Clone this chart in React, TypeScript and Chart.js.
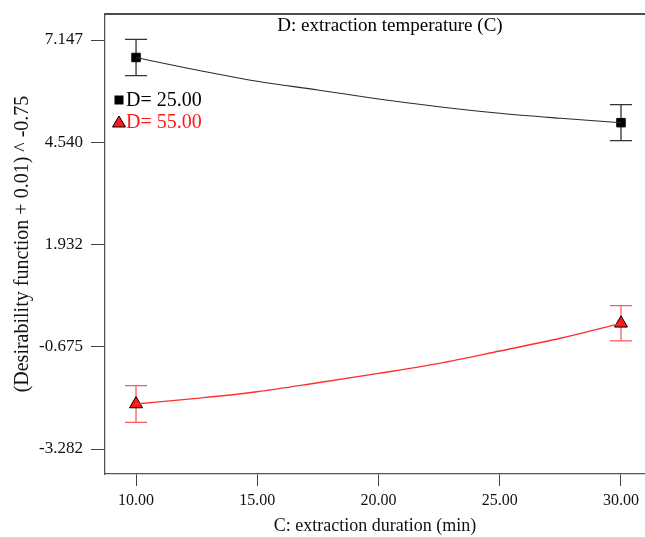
import { useEffect, useRef } from "react";
import { Chart, registerables } from "chart.js";

Chart.register(...registerables);

// Extraction duration (min) at which the fitted curves are sampled
const durations = [10, 12.5, 15, 17.5, 20, 22.5, 25, 27.5, 30];
// Fitted response curves for the two extraction temperatures
const curve25 = [6.701, 6.382, 6.094, 5.872, 5.643, 5.446, 5.278, 5.151, 5.039];
const curve55 = [-2.135, -1.99, -1.821, -1.592, -1.352, -1.097, -0.783, -0.459, -0.077];

// Design points with their interval half-widths
const designDurations = [10, 30];
const mean25 = [6.701, 5.039];
const mean55 = [-2.135, -0.077];
const halfInterval25 = [0.46, 0.46];
const halfInterval55 = [0.47, 0.45];

const yTicks = [-3.282, -0.675, 1.932, 4.54, 7.147];
const xTicks = [10, 15, 20, 25, 30];

const legendLabels = ["D= 25.00", "D= 55.00"];
const plotTitle = "D: extraction temperature (C)";

const SERIF = "'Liberation Serif', 'Times New Roman', serif";
const RED = "#ff1a1a";

const errorBarPlugin = {
  id: "errorBars",
  beforeDatasetsDraw(chart: any) {
    const { ctx, scales } = chart;
    const x = scales.x;
    const y = scales.y;
    const draw = (means: number[], halves: number[], color: string) => {
      ctx.save();
      ctx.strokeStyle = color;
      ctx.lineWidth = 1.3;
      designDurations.forEach((d, i) => {
        const px = x.getPixelForValue(d);
        const top = y.getPixelForValue(means[i] + halves[i]);
        const bot = y.getPixelForValue(means[i] - halves[i]);
        ctx.beginPath();
        ctx.moveTo(px, top);
        ctx.lineTo(px, bot);
        ctx.moveTo(px - 11, top);
        ctx.lineTo(px + 11, top);
        ctx.moveTo(px - 11, bot);
        ctx.lineTo(px + 11, bot);
        ctx.stroke();
      });
      ctx.restore();
    };
    draw(mean25, halfInterval25, "#333333");
    draw(mean55, halfInterval55, "#ff5a5a");
  },
};

const decorPlugin = {
  id: "decor",
  afterDraw(chart: any) {
    const { ctx, chartArea, width } = chart;
    ctx.save();
    // top frame line
    ctx.strokeStyle = "#111";
    ctx.lineWidth = 1.5;
    ctx.beginPath();
    ctx.moveTo(chartArea.left, chartArea.top);
    ctx.lineTo(width, chartArea.top);
    ctx.stroke();

    // heading inside the plot
    ctx.fillStyle = "#000";
    ctx.font = `19px ${SERIF}`;
    ctx.textAlign = "center";
    ctx.textBaseline = "middle";
    ctx.fillText(plotTitle, 390, chartArea.top + 12);

    // legend
    const lx = chartArea.left + 14;
    const ly1 = chartArea.top + 86;
    const ly2 = chartArea.top + 108;
    ctx.fillStyle = "#000";
    ctx.fillRect(lx - 4.5, ly1 - 4.5, 9, 9);
    ctx.beginPath();
    ctx.moveTo(lx, ly2 - 6);
    ctx.lineTo(lx + 6.5, ly2 + 5);
    ctx.lineTo(lx - 6.5, ly2 + 5);
    ctx.closePath();
    ctx.fillStyle = RED;
    ctx.fill();
    ctx.strokeStyle = "#000";
    ctx.lineWidth = 1;
    ctx.stroke();

    ctx.font = `20px ${SERIF}`;
    ctx.textAlign = "left";
    ctx.fillStyle = "#000";
    ctx.fillText(legendLabels[0], lx + 7, ly1 + 1);
    ctx.fillStyle = RED;
    ctx.fillText(legendLabels[1], lx + 7, ly2 + 1);
    ctx.restore();
  },
};

export default function App() {
  const ref = useRef<HTMLCanvasElement>(null);

  useEffect(() => {
    document.body.style.margin = "0";
    const canvas = ref.current;
    if (!canvas) return;

    const chart = new Chart(canvas, {
      type: "scatter",
      data: {
        datasets: [
          {
            data: durations.map((d, i) => ({ x: d, y: curve25[i] })),
            showLine: true,
            borderColor: "#2a2a2a",
            borderWidth: 1.1,
            pointRadius: 0,
            cubicInterpolationMode: "monotone",
          },
          {
            data: durations.map((d, i) => ({ x: d, y: curve55[i] })),
            showLine: true,
            borderColor: "#ff3030",
            borderWidth: 1.4,
            pointRadius: 0,
            cubicInterpolationMode: "monotone",
          },
          {
            data: designDurations.map((d, i) => ({ x: d, y: mean25[i] })),
            pointStyle: "rect",
            pointRadius: 6,
            backgroundColor: "#000",
            borderColor: "#000",
            borderWidth: 1,
          },
          {
            data: designDurations.map((d, i) => ({ x: d, y: mean55[i] })),
            pointStyle: "triangle",
            pointRadius: 7.5,
            backgroundColor: RED,
            borderColor: "#000",
            borderWidth: 1,
          },
        ],
      } as any,
      options: {
        animation: false,
        responsive: false,
        layout: {
          autoPadding: false,
          padding: { top: 14, right: 0, left: 0, bottom: 0 },
        },
        plugins: {
          legend: { display: false },
          tooltip: { enabled: false },
        },
        scales: {
          x: {
            type: "linear",
            min: 8.72,
            max: 30.99,
            afterBuildTicks: (scale: any) => {
              scale.ticks = xTicks.map((v) => ({ value: v }));
            },
            afterFit: (scale: any) => {
              scale.height = 63;
              scale.paddingLeft = 0;
              scale.paddingRight = 0;
            },
            ticks: {
              callback: (v: any) => Number(v).toFixed(2),
              font: { family: SERIF, size: 16 },
              color: "#111",
              padding: 5,
              maxRotation: 0,
              autoSkip: false,
            },
            grid: {
              drawOnChartArea: false,
              drawTicks: true,
              tickLength: 12,
              color: "#444",
            },
            border: { display: true, color: "#555", width: 1.3 },
            title: {
              display: true,
              text: "C: extraction duration (min)",
              font: { family: SERIF, size: 18 },
              color: "#111",
              padding: { top: 0, bottom: 0 },
            },
          },
          y: {
            type: "linear",
            min: -3.919,
            max: 7.81,
            afterBuildTicks: (scale: any) => {
              scale.ticks = yTicks.map((v) => ({ value: v }));
            },
            afterFit: (scale: any) => {
              scale.width = 105;
              scale.paddingTop = 0;
              scale.paddingBottom = 0;
            },
            ticks: {
              callback: (v: any) => Number(v).toFixed(3),
              font: { family: SERIF, size: 17 },
              color: "#111",
              padding: 8,
              autoSkip: false,
            },
            grid: {
              drawOnChartArea: false,
              drawTicks: true,
              tickLength: 14,
              color: "#444",
            },
            border: { display: true, color: "#555", width: 1.3 },
            title: {
              display: true,
              text: "(Desirability function + 0.01) ^ -0.75",
              font: { family: SERIF, size: 20 },
              color: "#111",
              padding: { top: 11, bottom: 0 },
            },
          },
        },
      } as any,
      plugins: [errorBarPlugin, decorPlugin],
    });

    return () => chart.destroy();
  }, []);

  return (
    <div style={{ width: 645, height: 537 }}>
      <canvas ref={ref} width={645} height={537} />
    </div>
  );
}
